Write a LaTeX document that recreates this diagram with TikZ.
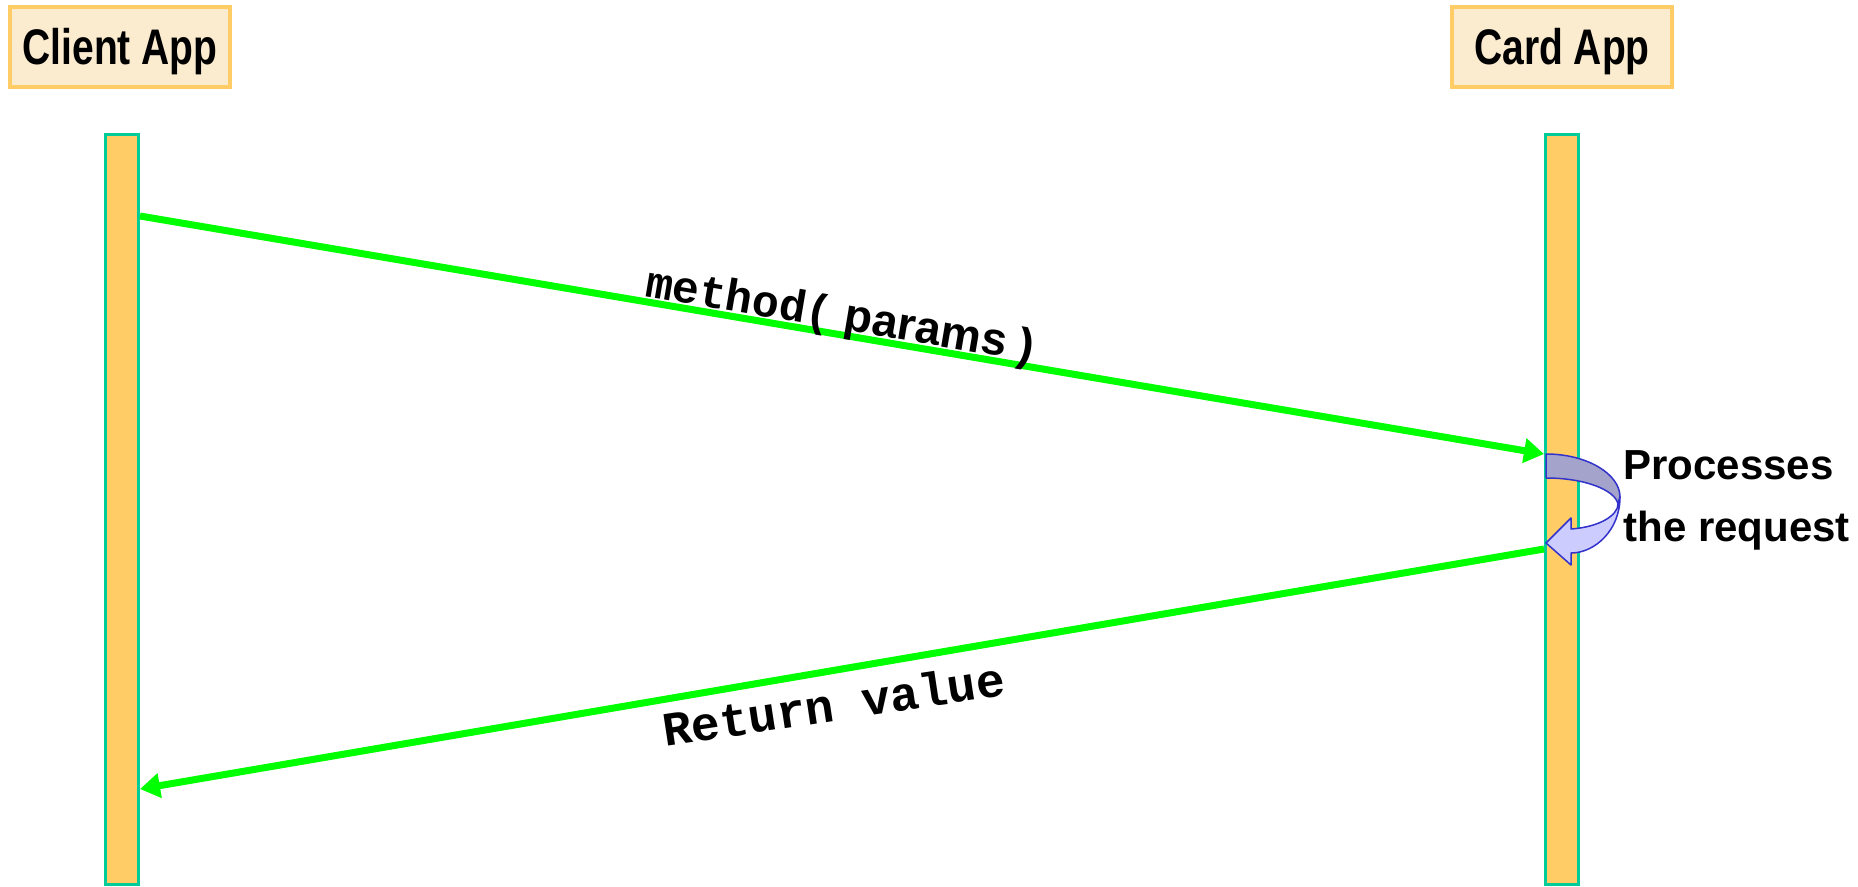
\documentclass[tikz,border=0pt]{standalone}
\usepackage{fontspec}
\setmainfont{Liberation Sans}
\newfontfamily\monofont{Liberation Mono}
\usetikzlibrary{arrows.meta}
\definecolor{boxfill}{RGB}{252,236,207}
\definecolor{boxline}{RGB}{255,204,102}
\definecolor{barfill}{RGB}{255,204,102}
\definecolor{barline}{RGB}{0,204,153}
\definecolor{msggreen}{RGB}{0,255,0}
\definecolor{procdark}{RGB}{163,163,204}
\definecolor{proclight}{RGB}{204,204,255}
\definecolor{procline}{RGB}{51,51,204}
\begin{document}
\begin{tikzpicture}[x=0.5pt,y=-0.5pt,
  actor/.style={draw=boxline, fill=boxfill, line width=2pt, minimum width=110pt,
    minimum height=40pt, inner sep=0pt,
    font=\fontsize{25pt}{30pt}\selectfont\bfseries, text height=17.9pt, text depth=0pt},
  lifeline/.style={draw=barline, fill=barfill, line width=1.5pt, minimum width=16.5pt,
    minimum height=375pt, inner sep=0pt},
  msgarrow/.style={draw=msggreen, line width=3.5pt, -{Triangle[length=10pt,width=12pt]}},
  procshape/.style={draw=procline, line width=0.75pt, line join=round},
  lbl/.style={inner sep=0pt}
]
\useasboundingbox (0,0) rectangle (1858,887);

\node[actor] (clientbox) at (120,47) {\scalebox{0.78}[1]{Client App}};
\node[actor] (cardbox) at (1562,47) {\scalebox{0.78}[1]{Card App}};

\node[lifeline] (client) at (122,509.5) {};
\node[lifeline] (card) at (1562,509.5) {};

\coordinate (m1s) at (140,216);
\coordinate (m1e) at (1544,454);
\coordinate (m2s) at (1544,549);
\coordinate (m2e) at (140,789);

\draw[msgarrow] (m1s) -- (m1e);
\draw[msgarrow] (m2s) -- (m2e);

\node[lbl, anchor=base, rotate=-9.62] (lbl1) at (838,329)
  {{\monofont\fontsize{22.5pt}{24pt}\selectfont\bfseries method(}\fontsize{23pt}{26pt}\selectfont\bfseries{} params )};
\node[lbl, anchor=base, rotate=8.6] (lbl2) at (836,721)
  {\monofont\fontsize{24pt}{26pt}\selectfont\bfseries Return value};

\filldraw[procshape, fill=procdark] (1546,454) .. controls (1587,454) and (1620,474) .. (1620,497)
  -- (1618,504) .. controls (1615,490) and (1585,478) .. (1546,478) -- cycle;
\filldraw[procshape, fill=proclight] (1620,497) .. controls (1620,530) and (1595,553) .. (1571,553)
  -- (1571,565) -- (1546,543) -- (1571,518) -- (1571,529)
  .. controls (1600,527) and (1618,515) .. (1618,504) -- cycle;

\node[lbl, anchor=north west, align=left, font=\fontsize{21pt}{31pt}\selectfont\bfseries]
  (proc) at (1623,450) {Processes\\the request};
\end{tikzpicture}
\end{document}
